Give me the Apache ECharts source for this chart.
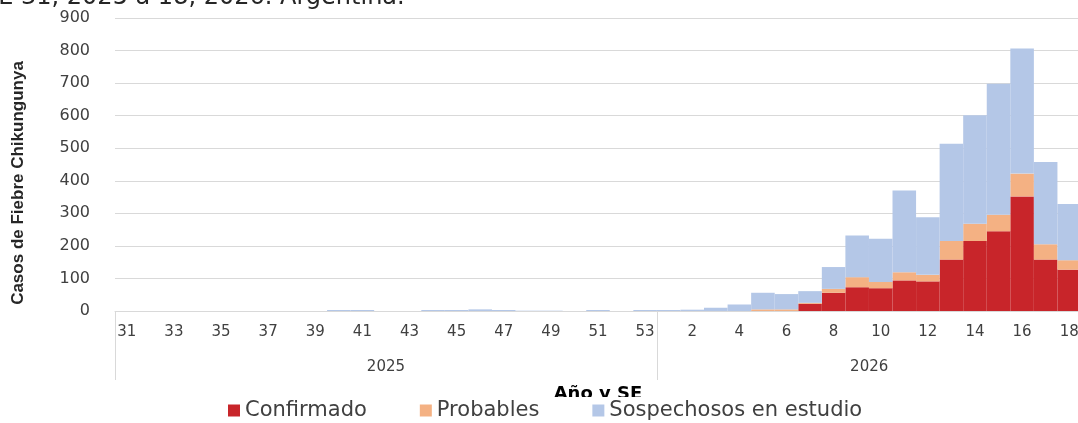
<!DOCTYPE html>
<html>
<head>
<meta charset="utf-8">
<script src="https://cdn.jsdelivr.net/npm/echarts@6/dist/echarts.min.js"></script>
<style>html,body{margin:0;padding:0;background:#fff;}#c{width:1078px;height:423px;}</style>
</head>
<body>
<div id="c"></div>
<script>
const weeks2025 = [31,32,33,34,35,36,37,38,39,40,41,42,43,44,45,46,47,48,49,50,51,52,53];
const weeks2026 = [1,2,3,4,5,6,7,8,9,10,11,12,13,14,15,16,17,18];
const years = ['2025','2026'];
const confirmado2025 = [0,0,0,0,0,0,0,0,0,0,0,0,0,0,0,0,0,0,0,0,0,0,0];
const confirmado2026 = [0,0,0,0,0,0,22,56,73,70,94,91,158,215,245,352,158,127];
const probables2025 = [0,0,0,0,0,0,0,0,0,0,0,0,0,0,0,0,0,0,0,0,0,0,0];
const probables2026 = [0,0,0,0,5,5,3,12,31,19,25,20,57,53,51,70,47,29];
const sospechosos2025 = [0,0,0,0,0,0,0,0,0,3,3,0,0,3,3,5,3,1,1,0,3,0,3];
const sospechosos2026 = [3,4,10,20,51,47,36,67,128,133,251,177,299,333,402,384,253,173];
const yTicks = [0,100,200,300,400,500,600,700,800,900];

const cats = weeks2025.map(w => '2025-' + w).concat(weeks2026.map(w => '2026-' + w));
const n2025 = weeks2025.length;
const mid2025 = Math.floor(n2025 / 2);
const mid2026 = n2025 + Math.floor(weeks2026.length / 2) - 1;

const chart = echarts.init(document.getElementById('c'), null, {renderer: 'canvas'});
const tickFont = 'DejaVu Sans';
chart.setOption({
  animation: false,
  backgroundColor: '#fff',
  graphic: [
    {type: 'text', left: -17, top: -14, style: {text: 'SE 31, 2025 a 18, 2026. Argentina.', font: '24px "DejaVu Sans"', fill: '#262626'}},
    {type: 'text', x: 18, y: 183, rotation: Math.PI / 2, style: {text: 'Casos de Fiebre Chikungunya', font: 'bold 17px "Liberation Sans"', fill: '#262626', align: 'center', verticalAlign: 'middle'}}
  ],
  legend: {
    bottom: -1, left: 218,
    backgroundColor: '#fff',
    padding: [3, 10, 3, 10],
    itemWidth: 12, itemHeight: 12, itemGap: 53,
    icon: 'rect',
    textStyle: {fontFamily: 'DejaVu Sans', fontSize: 21, color: '#404040'},
    data: ['Confirmado', 'Probables', 'Sospechosos en estudio']
  },
  grid: {left: 115, top: 18, width: 966, height: 293, containLabel: false, outerBoundsMode: 'none'},
  xAxis: [
    {
      type: 'category', data: cats, boundaryGap: true,
      axisLine: {show: true, lineStyle: {color: '#d9d9d9'}},
      axisTick: {show: false},
      axisLabel: {interval: 1, margin: 14, color: '#404040', fontFamily: tickFont, fontSize: 15,
        formatter: v => v.split('-')[1]},
      name: 'Año y SE', nameLocation: 'middle', nameGap: 74,
      nameTextStyle: {fontFamily: 'DejaVu Sans', fontWeight: 'bold', fontSize: 18, color: '#000'}
    },
    {
      type: 'category', data: cats, boundaryGap: true, position: 'bottom',
      axisLine: {show: false},
      axisTick: {show: true, length: 69, lineStyle: {color: '#d9d9d9'},
        interval: (i) => i === 0 || i === n2025},
      axisLabel: {interval: 0, margin: 49, color: '#404040', fontFamily: tickFont, fontSize: 15,
        formatter: (v, i) => i === mid2025 ? '{a|' + years[0] + '}' : (i === mid2026 ? '{b|' + years[1] + '}' : ''),
        rich: {a: {fontFamily: tickFont, fontSize: 15, color: '#404040'},
               b: {fontFamily: tickFont, fontSize: 15, color: '#404040', padding: [0,0,0,24]}}}
    }
  ],
  yAxis: {
    type: 'value', min: yTicks[0], max: yTicks[yTicks.length - 1], interval: 100,
    axisLine: {show: false}, axisTick: {show: false},
    axisLabel: {margin: 25, color: '#404040', fontFamily: tickFont, fontSize: 16},
    splitLine: {lineStyle: {color: '#d9d9d9', width: 1}}
  },
  series: [
    {name: 'Confirmado', type: 'bar', stack: 'a', barCategoryGap: '0%', itemStyle: {color: '#c8252a'},
      data: confirmado2025.concat(confirmado2026)},
    {name: 'Probables', type: 'bar', stack: 'a', barCategoryGap: '0%', itemStyle: {color: '#f4b183'},
      data: probables2025.concat(probables2026)},
    {name: 'Sospechosos en estudio', type: 'bar', stack: 'a', barCategoryGap: '0%', itemStyle: {color: '#b4c7e7'},
      data: sospechosos2025.concat(sospechosos2026)}
  ]
});
</script>
</body>
</html>
